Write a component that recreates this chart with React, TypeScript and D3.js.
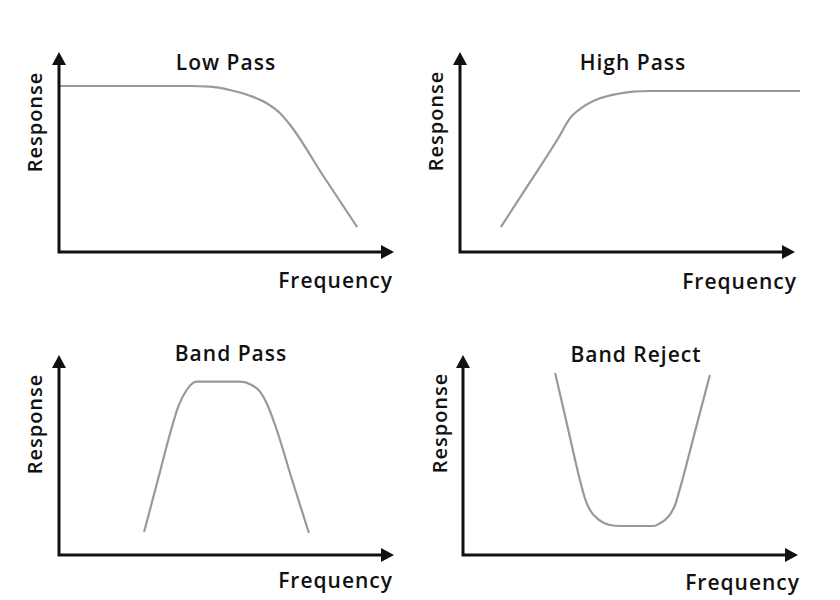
import React from "react";
import * as d3 from "d3";

// Panel titles and axis labels
const titles = ["Low Pass", "High Pass", "Band Pass", "Band Reject"];
const xLabel = "Frequency";
const yLabel = "Response";

// Curves: frequency (0-100 along x axis) and response (0-100 along y axis)
const lowPassX = [0, 39.1, 45.1, 51.0, 57.0, 62.0, 66.0, 69.0, 78.9, 89.0];
const lowPassY = [83, 83, 82.65, 81, 78.15, 74.35, 69.35, 63.5, 38, 12.5];

const highPassX = [12.2, 20.8, 29.3, 32.8, 36.8, 41.8, 46.8, 51.7, 56.7, 101.5];
const highPassY = [12.5, 34.65, 56.85, 66.85, 72.65, 76.85, 79, 80.15, 80.5, 80.5];

const bandPassX = [25.4, 29.5, 33.6, 35.6, 38.1, 41.1, 54.0, 57.5, 60.0, 62.0, 64.5, 69.5, 74.6];
const bandPassY = [11.5, 37.5, 63.35, 74.15, 82.5, 86.65, 86.65, 85, 81.65, 75.85, 65, 38, 11];

const bandRejectX = [27.5, 31.2, 34.9, 36.4, 37.9, 40.4, 43.9, 46.9, 56.8, 58.8, 61.3, 63.3, 64.8, 69.25, 73.7];
const bandRejectY = [91, 64.25, 37.5, 28.35, 22.5, 17.85, 15, 14.5, 14.5, 15.85, 19.15, 25, 33.35, 61.7, 90];

const seriesX = [lowPassX, highPassX, bandPassX, bandRejectX];
const seriesY = [lowPassY, highPassY, bandPassY, bandRejectY];

// layout (pixel geometry)
const panels = [
  { ox: 59, oy: 252, titleX: 226, titleY: 70, freqX: 393, freqY: 288, respX: 42, respY: 122 },
  { ox: 460, oy: 252, titleX: 633, titleY: 70, freqX: 797, freqY: 289, respX: 443, respY: 121 },
  { ox: 59, oy: 555, titleX: 231, titleY: 361, freqX: 393, freqY: 588, respX: 42, respY: 424 },
  { ox: 463, oy: 555, titleX: 636, titleY: 362, freqX: 800, freqY: 590, respX: 447, respY: 423 },
];

const W = 335;
const H = 200;
const FONT = "'Open Sans', 'DejaVu Sans', sans-serif";

function Panel({ idx }: { idx: number }) {
  const p = panels[idx];
  const x = d3.scaleLinear().domain([0, 100]).range([p.ox, p.ox + W]);
  const y = d3.scaleLinear().domain([0, 100]).range([p.oy, p.oy - H]);
  const pts: [number, number][] = seriesX[idx].map((v, i) => [v, seriesY[idx][i]]);
  const line = d3
    .line<[number, number]>()
    .x((d) => x(d[0]))
    .y((d) => y(d[1]))
    .curve(d3.curveMonotoneX);
  const x0 = x(0);
  const y0 = y(0);
  const xe = x(100);
  const yt = y(100);
  const ah = 13;
  const aw = 7;
  const textProps = {
    fontFamily: FONT,
    fontWeight: 600,
    fontSize: 21,
    fill: "#111",
    letterSpacing: 1,
  };
  return (
    <g>
      <path d={line(pts) || ""} fill="none" stroke="#999" strokeWidth={2.2} strokeLinejoin="round" />
      <path
        d={`M${x0},${yt + ah - 1}L${x0},${y0}L${xe - ah + 1},${y0}`}
        fill="none"
        stroke="#111"
        strokeWidth={3}
        strokeLinecap="square"
      />
      <path d={`M${x0},${yt}L${x0 - aw},${yt + ah}L${x0 + aw},${yt + ah}Z`} fill="#111" />
      <path d={`M${xe},${y0}L${xe - ah},${y0 - aw}L${xe - ah},${y0 + aw}Z`} fill="#111" />
      <text x={p.titleX} y={p.titleY} textAnchor="middle" {...textProps}>
        {titles[idx]}
      </text>
      <text x={p.freqX} y={p.freqY} textAnchor="end" {...textProps}>
        {xLabel}
      </text>
      <text
        transform={`translate(${p.respX},${p.respY}) rotate(-90)`}
        textAnchor="middle"
        {...textProps}
        fontSize={20}
      >
        {yLabel}
      </text>
    </g>
  );
}

export default function App() {
  return (
    <svg
      width={840}
      height={600}
      style={{ position: "absolute", left: 0, top: 0, background: "#fff" }}
    >
      <rect width={840} height={600} fill="#fff" />
      {panels.map((_, i) => (
        <Panel key={i} idx={i} />
      ))}
    </svg>
  );
}
